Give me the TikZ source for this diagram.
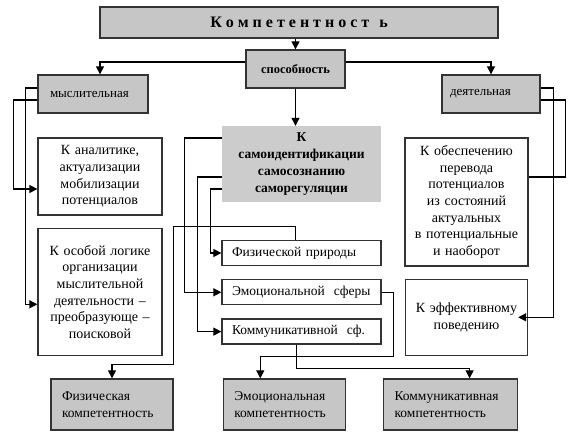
\documentclass[tikz,border=0pt]{standalone}
\usepackage{fontspec}
\setmainfont{Liberation Serif}
\usetikzlibrary{arrows.meta, positioning}

\begin{document}
\begin{tikzpicture}[x=1pt,y=-1pt,
    gbox/.style={draw=black!80,line width=1.3pt,fill=gray!45,inner xsep=11pt,inner ysep=0pt,align=left,font=\fontsize{13.5}{16.5}\selectfont},
    wbox/.style={draw=black!80,line width=1.3pt,fill=white,inner xsep=4pt,inner ysep=0pt,align=center,font=\fontsize{14}{16.6}\selectfont},
    sbox/.style={wbox,align=left,inner xsep=10pt,text width=139pt,minimum height=25pt,font=\fontsize{13.5}{16}\selectfont},
    arr/.style={-{Triangle[length=8pt,width=8pt]},line width=1.2pt},
    link/.style={line width=1.2pt}]
  \useasboundingbox (0,0) rectangle (573,442);
  \node[gbox,align=center,minimum width=398pt,minimum height=31pt,font=\fontsize{16}{18}\selectfont\bfseries] (komp) at (299,22.5) {К о м п е т е н т н о с т\hspace{6pt} ь};
  \node[gbox,align=center,minimum width=99pt,minimum height=38pt,font=\fontsize{12.5}{15}\selectfont\bfseries] (sposob) at (295.5,69) {способность};
  \node[gbox,text width=86pt,inner xsep=12pt,minimum height=38pt,font=\fontsize{13}{15}\selectfont] (mysl) at (93,94) {мыслительная};
  \node[gbox,text width=82pt,inner xsep=8pt,minimum height=38pt,font=\fontsize{13}{15}\selectfont] (deyat) at (491,94) {деятельная};
  \node[fill=gray!40,inner sep=0pt,align=center,minimum width=159pt,minimum height=76pt,font=\fontsize{13.5}{16.7}\selectfont\bfseries] (samo) at (301.5,164) {К\\самоидентификации\\самосознанию\\саморегуляции};
  \node[wbox,text width=116pt,minimum height=77pt] (anal) at (100,176.5) {К аналитике,\\актуализации\\мобилизации\\потенциалов};
  \node[wbox,text width=116pt,minimum height=127pt,below=12pt of anal] (logika) {К особой логике\\организации\\мыслительной\\деятельности –\\преобразующе –\\поисковой};
  \node[wbox,text width=115pt,minimum height=128pt] (perevod) at (466.5,202) {К обеспечению\\перевода\\потенциалов\\из состояний\\актуальных\\в потенциальные\\и наоборот};
  \node[wbox,text width=114pt,minimum height=76pt,below=12pt of perevod] (effekt) {К эффективному\\поведению};
  \node[sbox] (fiz) at (301.5,253) {Физической природы};
  \node[sbox,below=13pt of fiz] (emo) {Эмоциональной\ \ сферы};
  \node[sbox,below=13pt of emo] (komm) {Коммуникативной\ \ сф.};
  \node[gbox,text width=100pt,minimum height=51pt] (fizk) at (112,404.5) {Физическая\\компетентность};
  \node[gbox,text width=100pt,minimum height=51pt,right=49pt of fizk] (emok) {Эмоциональная\\компетентность};
  \node[gbox,text width=112pt,minimum height=51pt,right=37pt of emok] (kommk) {Коммуникативная\\компетентность};
  \draw[arr] (komp.south -| sposob.north) -- (sposob.north);
  \draw[arr] ([yshift=7pt]sposob.west) -| ([xshift=7pt]mysl.north);
  \draw[arr] ([yshift=7pt]sposob.east) -| (deyat.north);
  \draw[arr] (sposob.south) -- (sposob.south |- samo.north);
  \draw[arr] ([yshift=6pt]mysl.west) -- ++(-12,0) |- ([yshift=-12.5pt]logika.west);
  \draw[arr] ([yshift=-6pt]mysl.west) -- ++(-24,0) |- ([yshift=-12.5pt]anal.west);
  \draw[link] ([yshift=-6pt]deyat.east) -- ++(25,0) |- ([yshift=25pt]perevod.east);
  \draw[arr] ([yshift=6pt]deyat.east) -- ++(13,0) |- ([xshift=-10pt]effekt.east);
  \draw[arr] ([yshift=26pt]samo.west) -- ++(-37,0) |- (emo.west);
  \draw[arr] ([yshift=-13pt]samo.west) -- ++(-24,0) |- (komm.west);
  \draw[arr] ([yshift=-25pt]samo.west) -- ++(-11,0) |- (fiz.west);
  \draw[arr] ([xshift=-6pt]fiz.north) -- ++(0,-13) -| ++(-122,138) -| (fizk.north);
  \draw[arr] (emo.east) -- ++(12,0) -- ++(0,64) -| ([xshift=-24pt]emok.north);
  \draw[arr] ([xshift=-5pt]komm.south) -- ++(0,24) -| ([xshift=19pt]kommk.north);
\end{tikzpicture}
\end{document}
